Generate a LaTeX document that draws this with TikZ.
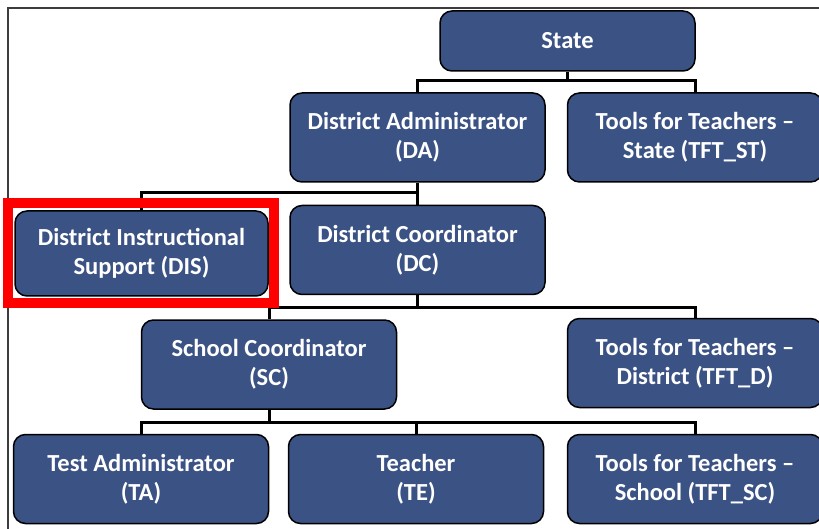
\documentclass[tikz,border=0pt]{standalone}
\usepackage{fontspec}
\setmainfont{Carlito}
\usetikzlibrary{calc}
\definecolor{boxblue}{RGB}{59,82,132}
\definecolor{framegray}{RGB}{60,60,60}
\tikzset{
  orgbox/.style={draw=black, line width=1.5pt, fill=boxblue, rounded corners=12pt,
    minimum width=255pt, minimum height=89pt, text=white, align=center,
    font=\fontsize{24.5}{29}\selectfont\bfseries, inner sep=0pt},
  conn/.style={draw=black, line width=3pt},
  highlight/.style={draw=red, line width=10pt},
  framel/.style={draw=framegray, line width=1.5pt}
}
\begin{document}
\begin{tikzpicture}[x=1pt,y=-1pt]
\useasboundingbox (0,0) rectangle (819,529);
\draw[framel] (8,540) -- (8,8) -- (830,8);
% nodes
\node[orgbox, minimum height=60pt] (state) at (567.5,41) {State};
\node[orgbox] (da) at (417.5,137.5) {District Administrator\\(DA)};
\node[orgbox] (tftst) at (695,137.5) {Tools for Teachers --\\State (TFT\_ST)};
\node[orgbox, minimum width=253pt, minimum height=85pt] (dis) at (141.5,253.5) {District Instructional\\Support (DIS)};
\node[orgbox] (dc) at (417.5,250) {District Coordinator\\(DC)};
\node[orgbox] (sc) at (269,364.5) {School Coordinator\\(SC)};
\node[orgbox] (tftd) at (695,363) {Tools for Teachers --\\District (TFT\_D)};
\node[orgbox] (ta) at (141,479) {Test Administrator\\(TA)};
\node[orgbox] (te) at (416,479) {Teacher\\(TE)};
\node[orgbox] (tftsc) at (695,479) {Tools for Teachers --\\School (TFT\_SC)};
% bus levels
\coordinate (b1) at (0,81);
\coordinate (b2) at (0,193);
\coordinate (b3) at (0,307);
\coordinate (b4) at (0,422);
% connectors
\draw[conn] (state.south) -- (state.south |- b1);
\draw[conn] (da.north) -- (da.north |- b1) -| (tftst.north);
\draw[conn] (da.south) -- (da.south |- b2);
\draw[conn] (dis.north) -- (dis.north |- b2) -| (dc.north);
\draw[conn] (dc.south) -- (dc.south |- b3);
\draw[conn] (sc.north) -- (sc.north |- b3) -| (tftd.north);
\draw[conn] (sc.south) -- (sc.south |- b4);
\draw[conn] (ta.north) -- (ta.north |- b4) -| (tftsc.north);
\draw[conn] (te.north) -- (te.north |- b4);
% highlight
\draw[highlight] ($(dis.north west)+(-6,-7)$) rectangle ($(dis.south east)+(5,6)$);
\end{tikzpicture}
\end{document}
